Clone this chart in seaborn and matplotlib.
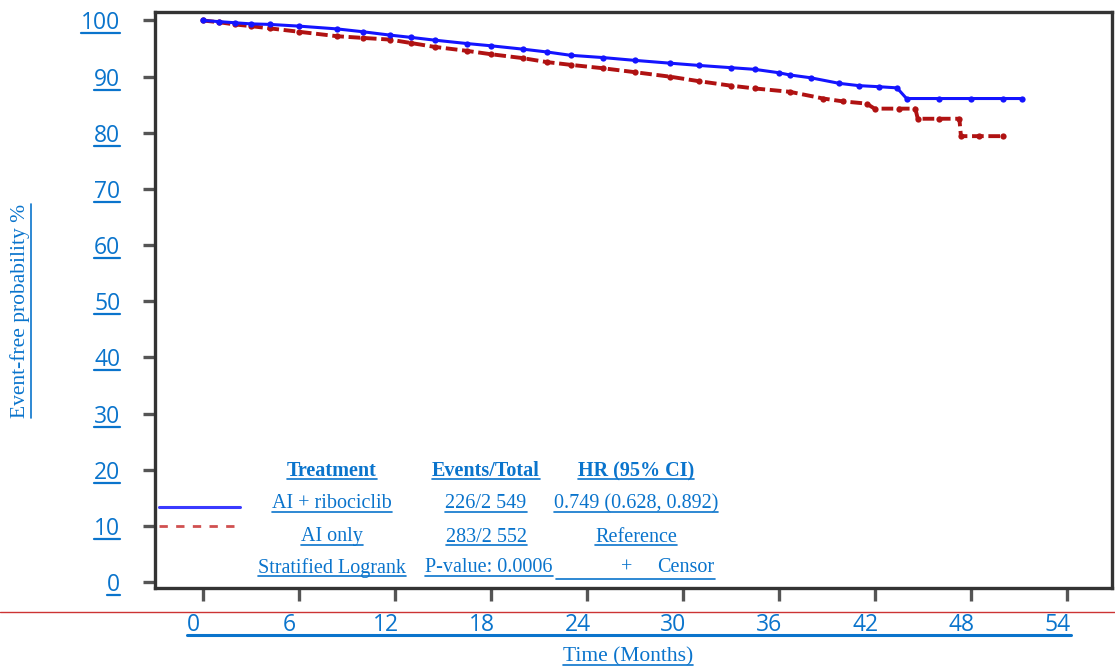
import matplotlib
matplotlib.use("Agg")
import matplotlib.pyplot as plt
import matplotlib.transforms as mtransforms
from matplotlib.lines import Line2D
import seaborn as sns
import pandas as pd

# ---------------- data ----------------
blue_time = [0, 1, 2, 3, 4.2, 6, 8.4, 10, 11.7, 13, 14.5, 16.5, 18, 20, 21.5, 23, 25, 27,
             29.2, 31, 33, 34.5, 36, 36.7, 38, 39.8, 41, 42.3, 43.4, 44.0, 46, 48, 50, 51.2]
blue_surv = [100, 99.8, 99.6, 99.4, 99.3, 99.0, 98.5, 98.0, 97.4, 97.0, 96.5, 95.9, 95.5, 94.9,
             94.4, 93.8, 93.4, 92.9, 92.4, 92.0, 91.6, 91.3, 90.7, 90.3, 89.8, 88.8, 88.4, 88.2,
             88.0, 86.1, 86.1, 86.1, 86.1, 86.1]
red_time = [0, 1, 2, 3, 4.2, 6, 8.4, 10, 11.7, 13, 14.5, 16.5, 18, 20, 21.5, 23, 25, 27,
            29.2, 31, 33, 34.5, 36.7, 38.8, 40, 41.5, 42, 43.5, 44.55, 44.7, 46, 47.3, 47.4,
            48.5, 50.0]
red_surv = [100, 99.7, 99.3, 99.0, 98.6, 98.0, 97.2, 96.9, 96.6, 96.0, 95.3, 94.6, 94.0, 93.3,
            92.6, 92.1, 91.5, 90.8, 90.0, 89.2, 88.4, 87.9, 87.3, 86.1, 85.6, 85.2, 84.3, 84.3,
            84.3, 82.5, 82.5, 82.5, 79.4, 79.4, 79.4]

x_ticks = [0, 6, 12, 18, 24, 30, 36, 42, 48, 54]
y_ticks = [0, 10, 20, 30, 40, 50, 60, 70, 80, 90, 100]

treat_header = ["Treatment", "Events/Total", "HR (95% CI)"]
row_blue = ["AI + ribociclib", "226/2 549", "0.749 (0.628, 0.892)"]
row_red = ["AI only", "283/2 552", "Reference"]
row_test = ["Stratified Logrank", "P-value: 0.0006"]
censor_label = "Censor"

x_label = "Time (Months)"
y_label = "Event-free probability %"

# ---------------- styling ----------------
TXT = "#0a74cc"
BLUE = "#1414ff"
RED = "#b01212"
W, H = 1115, 671

sns.set_theme(style="white")
plt.rcParams["font.family"] = ["DejaVu Sans"]

fig = plt.figure(figsize=(W / 100, H / 100), dpi=100)
fig.patch.set_facecolor("white")
ax = fig.add_axes([155 / W, 1 - 588 / H, (1112 - 155) / W, (588 - 12) / H])
ax.set_facecolor("white")

df_b = pd.DataFrame({"time": blue_time, "surv": blue_surv})
df_r = pd.DataFrame({"time": red_time, "surv": red_surv})

sns.lineplot(data=df_r, x="time", y="surv", ax=ax, color=RED, estimator=None, sort=False,
             linestyle=(0, (3, 1.2)), linewidth=2.8,
             marker="o", markersize=4.5, markeredgewidth=0)
sns.lineplot(data=df_b, x="time", y="surv", ax=ax, color=BLUE, estimator=None, sort=False,
             linewidth=2.2, marker="o", markersize=4.5, markeredgewidth=0)

ax.set_xlim(-2.97, 56.84)
ax.set_ylim(-1.07, 101.51)
ax.set_xticks(x_ticks)
ax.set_yticks(y_ticks)
ax.set_xticklabels([str(v) for v in x_ticks])
ax.set_yticklabels([str(v) for v in y_ticks])
ax.set_xlabel("")
ax.set_ylabel("")

for s in ax.spines.values():
    s.set_visible(True)
    s.set_color("#333333")
    s.set_linewidth(2.4)

ax.tick_params(axis="both", which="major", direction="out", color="#555555",
               bottom=True, left=True, top=False, right=False,
               width=2.4, length=9, labelcolor=TXT, labelsize=16.5)
ax.tick_params(axis="y", pad=16)
ax.tick_params(axis="x", pad=9)
for lab in ax.get_yticklabels() + ax.get_xticklabels():
    lab.set_fontfamily(["Open Sans", "DejaVu Sans"])
offset = mtransforms.ScaledTranslation(-9 / 100, 0, fig.dpi_scale_trans)
for lab in ax.get_xticklabels():
    lab.set_transform(lab.get_transform() + offset)

serif = ["Liberation Serif", "DejaVu Serif"]

def ftext(x, y, s, **kw):
    return fig.text(x / W, 1 - y / H, s, color=TXT, family=serif, ha="center", va="center", **kw)

texts_ul = []
# axis labels
texts_ul.append(ftext(628, 657, x_label, fontsize=15.5))
texts_ul.append(fig.text(20 / W, 1 - 311 / H, y_label, color=TXT, family=serif, rotation=90,
                         ha="center", va="center", fontsize=15.5))

# legend table
cols = [332, 486, 636]
for c, s in zip(cols, treat_header):
    texts_ul.append(ftext(c, 471, s, fontsize=14.5, fontweight="bold"))
for c, s in zip(cols, row_blue):
    texts_ul.append(ftext(c, 504, s, fontsize=14.5))
for c, s in zip(cols, row_red):
    texts_ul.append(ftext(c, 537, s, fontsize=14.5))
texts_ul.append(ftext(332, 568, row_test[0], fontsize=14.5))
texts_ul.append(ftext(489, 568, row_test[1], fontsize=14.5))
ftext(627, 568, "+", fontsize=14.5)
ftext(686, 568, censor_label, fontsize=14.5)

fig.add_artist(Line2D([159 / W, 240 / W], [1 - 507 / H, 1 - 507 / H], color="#3a3aff", lw=2.2))
fig.add_artist(Line2D([159 / W, 240 / W], [1 - 526 / H, 1 - 526 / H], color="#d05050", lw=2.0,
                      linestyle=(0, (3, 3))))

# red rule below the ticks
fig.add_artist(Line2D([0, 1], [1 - 611.5 / H, 1 - 611.5 / H], color="#cc3333", lw=1.0))

fig.canvas.draw()
rend = fig.canvas.get_renderer()

def hline(x0, x1, y, lw=1.2):
    fig.add_artist(Line2D([x0 / W, x1 / W], [y / H, y / H], color=TXT, lw=lw))

for t in texts_ul:
    bb = t.get_window_extent(rend)
    if t.get_rotation() == 90:
        xx = bb.x1 + 1
        fig.add_artist(Line2D([xx / W, xx / W], [bb.y0 / H, bb.y1 / H], color=TXT, lw=1.2))
    else:
        hline(bb.x0, bb.x1, bb.y0 + 2)

# censor underline
hline(556, 715, H - 579)

for lab in ax.get_yticklabels():
    bb = lab.get_window_extent(rend)
    hline(bb.x0, bb.x1, bb.y0 + 2, lw=1.6)

xl = ax.get_xticklabels()
b0 = xl[0].get_window_extent(rend)
b1 = xl[-1].get_window_extent(rend)
hline(b0.x0, b1.x1, b0.y0 + 2, lw=2.2)

fig.savefig("out.png", dpi=100, facecolor="white")
